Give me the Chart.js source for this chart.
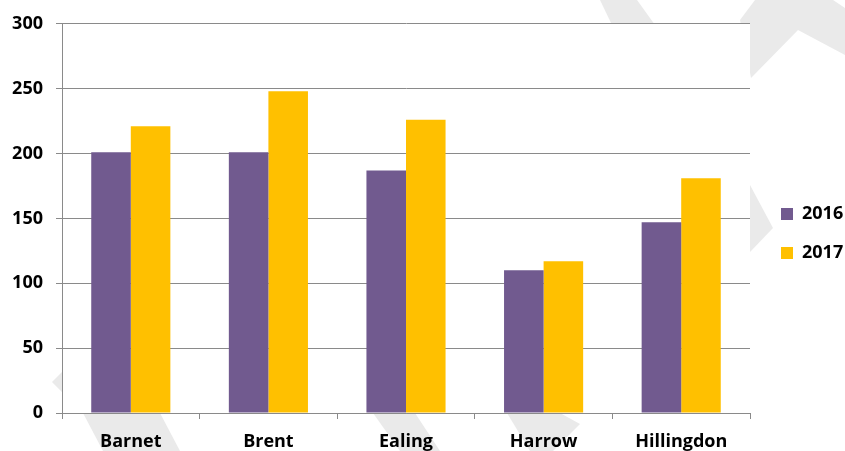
<!DOCTYPE html>
<html>
<head>
<meta charset="utf-8">
<script src="https://cdn.jsdelivr.net/npm/chart.js@4/dist/chart.umd.min.js"></script>
<style>
  html, body { margin: 0; padding: 0; background: #ffffff; }
  #wrap { width: 845px; height: 451px; position: relative; }
  #probe { font: bold 18px "Open Sans"; position: absolute; left: -999px; }
</style>
</head>
<body>
<div id="wrap"><canvas id="c" width="845" height="451"></canvas></div>
<div id="probe">2016 Barnet</div>
<script>
const categories = ['Barnet', 'Brent', 'Ealing', 'Harrow', 'Hillingdon'];
const values2016 = [201, 201, 187, 110, 147];
const values2017 = [221, 248, 226, 117, 181];
const seriesNames = ['2016', '2017'];
const yTicks = [0, 50, 100, 150, 200, 250, 300];

const COLOR_2016 = '#715A8F';
const COLOR_2017 = '#FFC000';
const GRID = '#8A8A8A';
const SHAPE = '#EAEAEA';
const FONT = { family: '"Open Sans", Lato, sans-serif', weight: 'bold', size: 18 };

// decorative light-grey background arrows (slide background)
const backgroundShapes = [
  [[600,0],[637,0],[655,25],[612,25]],
  [[755,0],[833,0],[845,8],[845,55],[798,30],[751,78],[740,20]],
  [[750,185],[773,228],[750,252]],
  [[52,382],[72,362],[160,413],[180,451],[103,451],[83,413],[62,392]],
  [[373,413],[415,413],[440,451],[400,451]],
  [[507,413],[560,413],[580,424],[553,451],[530,451]]
];

const backdrop = {
  id: 'backdrop',
  beforeDraw(chart) {
    const ctx = chart.ctx, a = chart.chartArea;
    ctx.save();
    ctx.fillStyle = '#ffffff';
    ctx.fillRect(0, 0, chart.width, chart.height);
    ctx.fillStyle = SHAPE;
    for (const poly of backgroundShapes) {
      ctx.beginPath();
      poly.forEach((p, i) => i ? ctx.lineTo(p[0], p[1]) : ctx.moveTo(p[0], p[1]));
      ctx.closePath();
      ctx.fill();
    }
    ctx.fillStyle = '#ffffff';
    ctx.fillRect(a.left, a.top, a.right - a.left, a.bottom - a.top);
    ctx.restore();
  }
};

const legendShift = {
  id: 'legendShift',
  afterLayout(chart) {
    const lg = chart.legend;
    if (!lg) return;
    lg.left += 10; lg.right += 10;
    lg.top -= 3; lg.bottom -= 3;
  }
};

function build() {
  Chart.defaults.font.family = FONT.family;
  Chart.defaults.font.weight = 'bold';
  Chart.defaults.font.size = 18;
  Chart.defaults.color = '#000000';

  new Chart(document.getElementById('c'), {
    type: 'bar',
    data: {
      labels: categories,
      datasets: [
        { label: seriesNames[0], data: values2016, backgroundColor: COLOR_2016, borderWidth: 0 },
        { label: seriesNames[1], data: values2017, backgroundColor: COLOR_2017, borderWidth: 0 }
      ]
    },
    options: {
      responsive: false,
      animation: false,
      devicePixelRatio: 1,
      layout: { padding: { top: 22, right: 11, bottom: 0, left: 0 } },
      datasets: { bar: { categoryPercentage: 0.575, barPercentage: 1.0 } },
      plugins: {
        legend: {
          position: 'right',
          align: 'center',
          maxWidth: 84,
          labels: {
            boxWidth: 12, boxHeight: 12, padding: 21,
            font: FONT,
            color: '#000000'
          }
        },
        tooltip: { enabled: false },
        title: { display: false }
      },
      scales: {
        x: {
          grid: { display: true, drawOnChartArea: false, drawTicks: true, tickLength: 6, color: GRID, offset: true },
          border: { display: true, color: GRID, width: 1 },
          ticks: { padding: 12, maxRotation: 0, autoSkip: false, color: '#000000', font: FONT },
          afterFit(scale) { scale.height = 38; }
        },
        y: {
          min: 0, max: 300,
          afterBuildTicks(scale) { scale.ticks = yTicks.map(v => ({ value: v })); },
          grid: { color: GRID, lineWidth: 1, tickLength: 6, drawTicks: true },
          border: { display: true, color: GRID, width: 1 },
          ticks: { padding: 13, color: '#000000', font: FONT },
          afterFit(scale) { scale.width = 62; }
        }
      }
    },
    plugins: [backdrop, legendShift]
  });
}

(document.fonts && document.fonts.load ? Promise.all([
  document.fonts.load('bold 18px "Open Sans"'),
  document.fonts.ready
]) : Promise.resolve()).then(build, build);
</script>
</body>
</html>
